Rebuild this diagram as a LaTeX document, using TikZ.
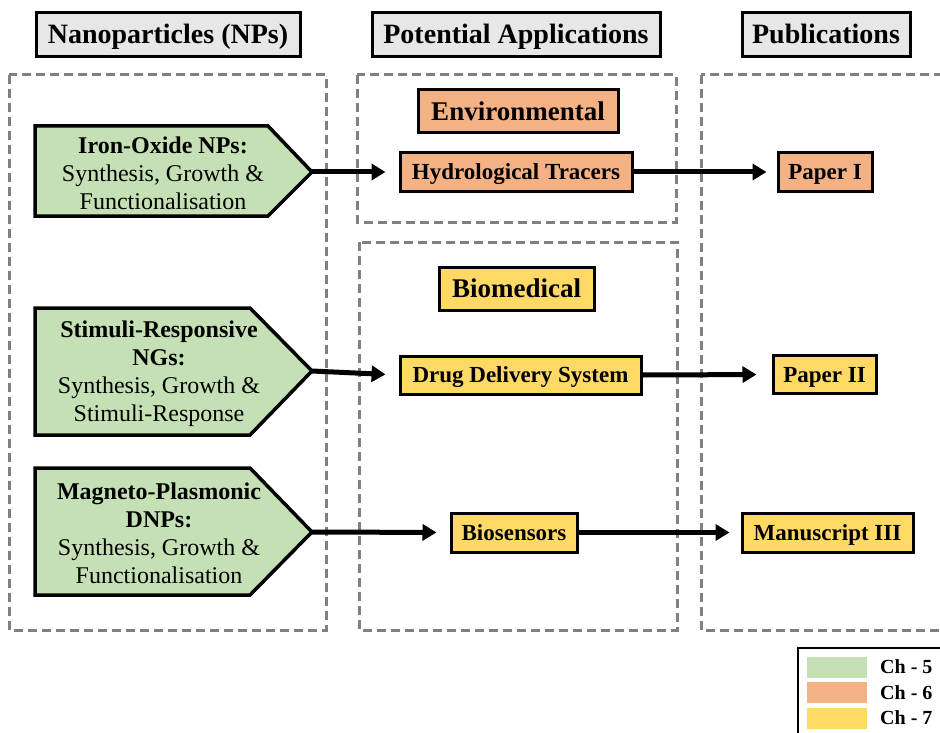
\documentclass[tikz,border=0pt]{standalone}
\usepackage{fontspec}
\setmainfont{Liberation Serif}
\usetikzlibrary{arrows.meta}
\definecolor{cgreen}{HTML}{C5E0B4}
\definecolor{corange}{HTML}{F4B183}
\definecolor{cyellow}{HTML}{FFD966}
\definecolor{cgrayfill}{HTML}{E7E7E7}
\definecolor{cdash}{HTML}{808080}
\begin{document}
\begin{tikzpicture}[x=1pt,y=-1pt,
  hdr/.style={draw=black, line width=3pt, fill=cgrayfill, inner sep=0pt,
    font=\fontsize{28}{32}\selectfont\bfseries, minimum height=44pt,
    text height=18pt, text depth=0pt},
  grp/.style={draw=cdash, line width=3pt, dash pattern=on 9pt off 5pt},
  tagbox/.style={draw=black, line width=3pt, inner sep=0pt,
    font=\fontsize{23}{26}\selectfont\bfseries, minimum height=38pt,
    text height=15pt, text depth=0pt},
  bigtag/.style={tagbox, font=\fontsize{27}{30}\selectfont\bfseries, minimum height=43pt,
    text height=18pt},
  greenbox/.style={draw=black, line width=3.5pt, fill=cgreen, line join=miter},
  gtext/.style={align=center, inner sep=0pt, font=\fontsize{24}{28}\selectfont},
  arr/.style={line width=5pt, -{Triangle[length=14pt,width=16pt]}},
  swatch/.style={inner sep=0pt, minimum width=60pt, minimum height=21pt},
  legtext/.style={anchor=west, inner sep=0pt, font=\fontsize{20}{22}\selectfont\bfseries,
    text height=13pt, text depth=0pt}
]
\useasboundingbox (0,0) rectangle (940,733);
\clip (0,0) rectangle (940,733);

% headers
\node[hdr, minimum width=264pt] (h1) at (168,35) {Nanoparticles (NPs)};
\node[hdr, minimum width=288pt] (h2) at (516,35) {Potential Applications};
\node[hdr, minimum width=168pt] (h3) at (826,35) {Publications};

% dashed groups
\draw[grp] (9,75) rectangle (326,630);
\draw[grp] (357,75) rectangle (676,222);
\draw[grp] (359,242) rectangle (677,630);
\draw[grp] (701,75) rectangle (960,630);

% green pentagons
\draw[greenbox] (35,126) -- (268,126) -- (312,172) -- (268,216) -- (35,216) -- cycle;
\coordinate (g1tip) at (312,172);
\node[gtext] (g1) at (163,173) {\textbf{Iron-Oxide NPs:}\\Synthesis, Growth \&\\Functionalisation};

\draw[greenbox] (35,308) -- (250,308) -- (312,371) -- (250,435) -- (35,435) -- cycle;
\coordinate (g2tip) at (312,371);
\node[gtext] (g2) at (159,374) {\textbf{Stimuli-Responsive}\\\textbf{NGs:}\\Synthesis, Growth \&\\Stimuli-Response};

\draw[greenbox] (35,468) -- (250,468) -- (312,532) -- (250,595) -- (35,595) -- cycle;
\coordinate (g3tip) at (312,532);
\node[gtext] (g3) at (159,533) {\textbf{Magneto-Plasmonic}\\\textbf{DNPs:}\\Synthesis, Growth \&\\Functionalisation};

% application boxes
\node[bigtag, fill=corange, minimum width=200pt] (env) at (518,111.5) {Environmental};
\node[tagbox, fill=corange, minimum width=232pt] (hydro) at (516,172) {Hydrological Tracers};
\node[bigtag, fill=cyellow, minimum width=155pt] (biomed) at (516.5,288.5) {Biomedical};
\node[tagbox, fill=cyellow, minimum width=241pt] (drug) at (520.5,375) {Drug Delivery System};
\node[tagbox, fill=cyellow, minimum width=126pt, minimum height=39pt] (bios) at (514,532.5) {Biosensors};

% publications
\node[tagbox, fill=corange, minimum width=94pt] (p1) at (825,172) {Paper I};
\node[tagbox, fill=cyellow, minimum width=103pt] (p2) at (824.5,374.5) {Paper II};
\node[tagbox, fill=cyellow, minimum width=171pt, minimum height=39pt] (m3) at (827.5,532.5) {Manuscript III};

% arrows
\draw[arr, shorten >=13pt] (g1tip) -- (hydro.west);
\draw[arr, shorten >=13pt] (g2tip) -- (drug.west);
\draw[arr, shorten >=13pt] (g3tip) -- (bios.west);
\draw[arr, shorten >=10pt] (hydro.east) -- (p1.west);
\draw[arr, shorten >=15pt] (drug.east) -- (p2.west);
\draw[arr, shorten >=11pt] (bios.east) -- (m3.west);

% legend
\draw[line width=2.5pt] (798,648) rectangle (960,750);
\node[swatch, fill=cgreen] (s5) at (837,667) {};
\node[swatch, fill=corange] (s6) at (837,692.5) {};
\node[swatch, fill=cyellow] (s7) at (837,718) {};
\node[legtext] (l5) at (880,667) {Ch - 5};
\node[legtext] (l6) at (880,692.5) {Ch - 6};
\node[legtext] (l7) at (880,718) {Ch - 7};
\end{tikzpicture}
\end{document}
